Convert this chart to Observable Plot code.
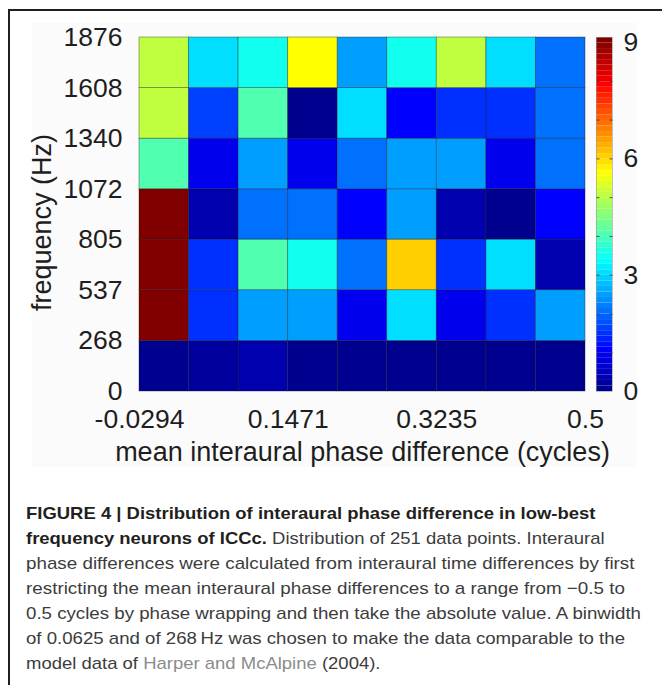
<!DOCTYPE html>
<html>
<head>
<meta charset="utf-8">
<script src="https://cdn.jsdelivr.net/npm/d3@7"></script>
<script src="https://cdn.jsdelivr.net/npm/@observablehq/plot@0.6"></script>
<style>
  html, body { margin: 0; padding: 0; background: #fff; }
  body { width: 662px; height: 685px; overflow: hidden; position: relative; font-family: "Liberation Sans", Arial, Helvetica, sans-serif; }
  #frame { position: absolute; left: 7.5px; top: 9px; width: 720px; height: 720px; border-left: 2.7px solid #231f20; border-top: 2.7px solid #231f20; }
  #chartbg { position: absolute; left: 32px; top: 23px; width: 605px; height: 444px; background: #fbfbfb; }
  #main { position: absolute; left: 0; top: 0; }
  #cbar { position: absolute; left: 596px; top: 0; }
  .cap { position: absolute; left: 25.5px; white-space: nowrap; font-size: 17px; line-height: 20px; height: 20px; color: #3c3c3c; transform-origin: 0 0; }
  .cap b { color: #231f20; font-weight: bold; }
  .cap .ref { color: #8c8c8c; }
</style>
</head>
<body>
<div id="frame"></div>
<div id="chartbg"></div>
<div id="main"></div>
<div id="cbar"></div>
<div id="caption"></div>
<script>
// ---------- data ----------
const xEdges = [-0.0294, 0.0294, 0.0882, 0.1471, 0.2059, 0.2647, 0.3235, 0.3824, 0.4412, 0.5];
const yEdges = [0, 268, 537, 805, 1072, 1340, 1608, 1876];
const xTicks = [-0.0294, 0.1471, 0.3235, 0.5];
const xTickLabels = ["-0.0294", "0.1471", "0.3235", "0.5"];
const yTicks = [0, 268, 537, 805, 1072, 1340, 1608, 1876];
const colorTicks = [0, 3, 6, 9];
const colorMinorTicks = [1, 2, 3, 4, 5, 6, 7, 8];
const colorMax = 9.13;

// rows: frequency bins from bottom (0–268 Hz) to top (1608–1876 Hz); columns: phase bins left to right
const row0 = [0, 0.21, 0.36, 0, 0, 0, 0, 0, 0];
const row1 = [9.06, 1.50, 2.50, 2.50, 0.93, 3.07, 0.93, 1.50, 2.50];
const row2 = [9.06, 1.50, 4.07, 3.50, 2.07, 6.06, 1.50, 3.07, 0.36];
const row3 = [9.06, 0.36, 2.07, 2.07, 1.07, 2.50, 0.36, 0, 1.07];
const row4 = [4.07, 0.93, 2.50, 0.93, 2.07, 2.50, 2.50, 0.93, 2.07];
const row5 = [5.06, 1.64, 4.07, 0, 3.07, 1.07, 1.50, 1.50, 2.07];
const row6 = [5.06, 3.07, 3.50, 5.64, 2.50, 3.50, 5.06, 3.07, 2.07];
const rows = [row0, row1, row2, row3, row4, row5, row6];

const xLabel = "mean interaural phase difference (cycles)";
const yLabel = "frequency (Hz)";

const captionLines = [
  [["b", "FIGURE 4 | Distribution of interaural phase difference in low-best"]],
  [["b", "frequency neurons of ICCc."], ["t", " Distribution of 251 data points. Interaural"]],
  [["t", "phase differences were calculated from interaural time differences by first"]],
  [["t", "restricting the mean interaural phase differences to a range from \u22120.5 to"]],
  [["t", "0.5 cycles by phase wrapping and then take the absolute value. A binwidth"]],
  [["t", "of 0.0625 and of 268\u2009Hz was chosen to make the data comparable to the"]],
  [["t", "model data of "], ["r", "Harper and McAlpine"], ["t", " (2004)."]]
];
const captionRight = [595, 604, 634, 624.5, 640.5, 624.5, 380];

// ---------- MATLAB jet(64) colormap ----------
function jetMap(m) {
  const n = Math.ceil(m / 4);
  const u = [];
  for (let i = 1; i <= n; i++) u.push(i / n);
  for (let i = 0; i < n - 1; i++) u.push(1);
  for (let i = n; i >= 1; i--) u.push(i / n);
  const g0 = u.map((_, i) => Math.ceil(n / 2) - (m % 4 === 1 ? 1 : 0) + i + 1);
  const r = g0.map(v => v + n).filter(v => v <= m);
  const b = g0.map(v => v - n).filter(v => v >= 1);
  const g = g0.filter(v => v <= m);
  const J = Array.from({length: m}, () => [0, 0, 0]);
  r.forEach((k, i) => J[k - 1][0] = u[i]);
  g.forEach((k, i) => J[k - 1][1] = u[i]);
  b.forEach((k, i) => J[k - 1][2] = u[u.length - b.length + i]);
  return J.map(([R, G, B]) => d3.rgb(Math.round(R * 255), Math.round(G * 255), Math.round(B * 255)).formatHex());
}
const jet = jetMap(64);
const colorOpts = {
  type: "linear",
  domain: [0, colorMax],
  interpolate: t => jet[Math.max(0, Math.min(63, Math.floor(t * 64)))]
};

// ---------- table ----------
const cells = [];
rows.forEach((row, j) => row.forEach((v, i) => cells.push({
  x1: xEdges[i], x2: xEdges[i + 1], y1: yEdges[j], y2: yEdges[j + 1], v
})));

const fontFamily = '"Liberation Sans", Arial, Helvetica, sans-serif';

const main = Plot.plot({
  width: 662,
  height: 475,
  marginLeft: 139,
  marginRight: 77,
  marginTop: 37,
  marginBottom: 84,
  style: {fontFamily, fontSize: "26.5px", color: "#1e1e1e", background: "transparent", overflow: "visible"},
  x: {domain: [xEdges[0], xEdges[xEdges.length - 1]], label: null},
  y: {domain: [yEdges[0], yEdges[yEdges.length - 1]], label: null},
  color: colorOpts,
  marks: [
    Plot.rect(cells, {x1: "x1", x2: "x2", y1: "y1", y2: "y2", fill: "v", stroke: "#1a1a1a", strokeOpacity: 0.45, strokeWidth: 0.8}),
    Plot.axisX({ticks: xTicks, tickFormat: d => xTickLabels[xTicks.indexOf(d)], tickSize: 0, tickPadding: 18, label: null, fontSize: 26.5}),
    Plot.axisY({ticks: yTicks, tickFormat: d => String(d), tickSize: 0, tickPadding: 17, label: null, fontSize: 26.5}),
    Plot.text([xLabel], {text: d => d, frameAnchor: "bottom", textAnchor: "middle", lineAnchor: "middle", dy: 60.4, fontSize: 27, fill: "#1e1e1e"}),
    Plot.text([yLabel], {text: d => d, frameAnchor: "left", textAnchor: "middle", lineAnchor: "middle", dx: -97, dy: 8, rotate: -90, fontSize: 27, fill: "#1e1e1e"})
  ]
});
document.getElementById("main").appendChild(main);

const cbarSteps = d3.range(64).map(i => ({y1: i * colorMax / 64, y2: (i + 1) * colorMax / 64, v: (i + 0.5) * colorMax / 64}));
const cbar = Plot.plot({
  width: 66,
  height: 475,
  marginLeft: 0,
  marginRight: 50,
  marginTop: 37,
  marginBottom: 84,
  style: {fontFamily, fontSize: "26.5px", color: "#1e1e1e", background: "transparent", overflow: "visible"},
  x: {domain: [0, 1], axis: null},
  y: {domain: [0, colorMax], axis: null},
  color: colorOpts,
  marks: [
    Plot.rect(cbarSteps, {x1: 0, x2: 1, y1: "y1", y2: "y2", fill: "v"}),
    Plot.axisY({anchor: "left", ticks: colorMinorTicks, tickSize: -3.5, tickFormat: () => "", label: null, stroke: "#333", strokeOpacity: 0.8}),
    Plot.axisY({anchor: "right", ticks: colorMinorTicks, tickSize: -3.5, tickFormat: () => "", label: null, stroke: "#333", strokeOpacity: 0.8}),
    Plot.axisY({anchor: "right", ticks: colorTicks, tickSize: 0, tickPadding: 11, tickFormat: d => String(d), label: null, fontSize: 26.5}),
    Plot.frame({stroke: "#9a9a9a", strokeWidth: 0.6})
  ]
});
document.getElementById("cbar").appendChild(cbar);

// ---------- caption ----------
const cap = document.getElementById("caption");
captionLines.forEach((parts, i) => {
  const div = document.createElement("div");
  div.className = "cap";
  div.style.top = (504.1 + i * 24.9) + "px";
  parts.forEach(([kind, txt]) => {
    const el = document.createElement(kind === "b" ? "b" : "span");
    if (kind === "r") el.className = "ref";
    el.textContent = txt;
    div.appendChild(el);
  });
  cap.appendChild(div);
  const w = div.getBoundingClientRect().width;
  const target = captionRight[i] - 25.5;
  div.style.transform = `scaleX(${target / w})`;
});
</script>
</body>
</html>
